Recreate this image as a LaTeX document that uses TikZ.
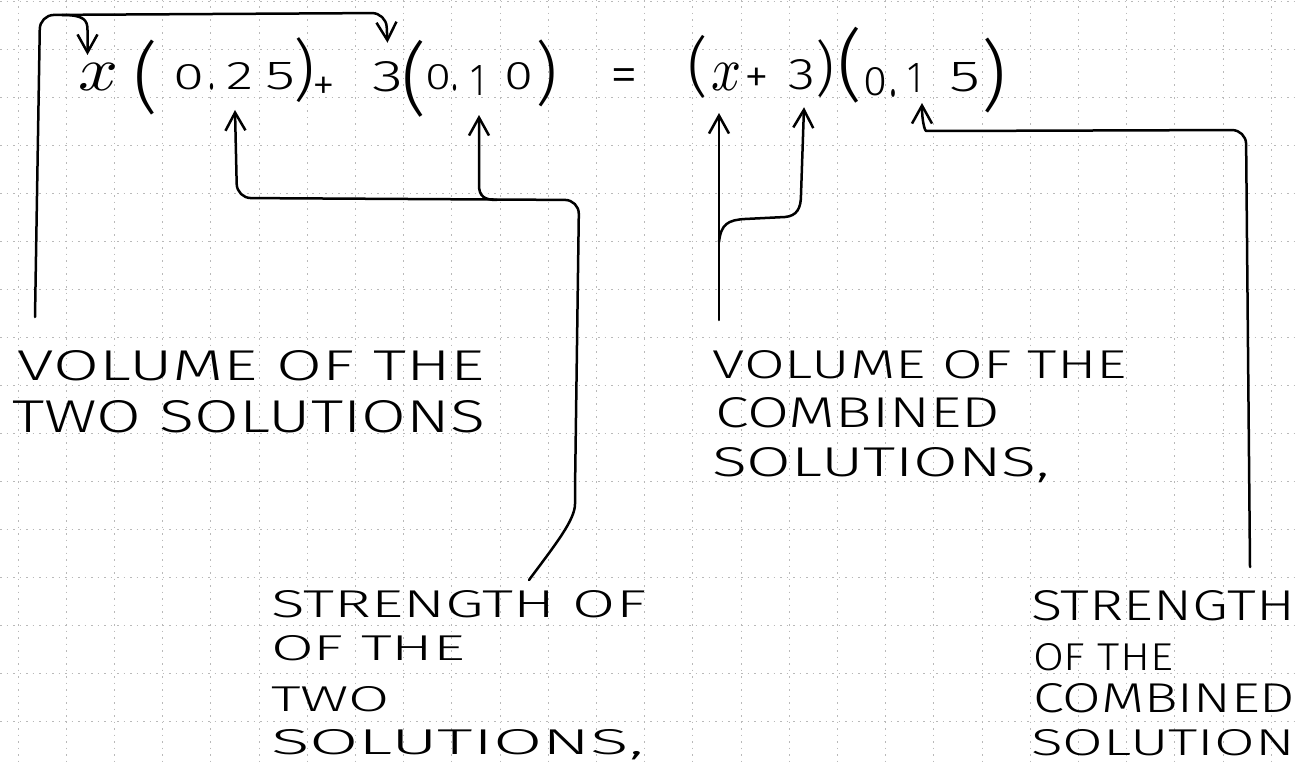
\documentclass[tikz,border=0pt]{standalone}
\usepackage{fontspec}
\setmainfont{Fira Sans Light}[Numbers=Lining]
\usepackage{graphicx}
\usetikzlibrary{arrows.meta}
\newcommand{\hwfit}[3]{\resizebox{#1}{#2}{#3}}
\newcommand{\hwfitt}[3]{\resizebox*{#1}{#2}{#3}}
\begin{document}
\begin{tikzpicture}[x=1pt,y=-1pt,
  hw/.style={inner sep=0pt, outer sep=0pt, anchor=base west},
  ch/.style={inner sep=0pt, outer sep=0pt},
  op/.style={inner sep=0pt, outer sep=0pt, anchor=base, font=\fontsize{46}{46}\selectfont},
  arr/.style={line width=2.5pt, line cap=round, line join=round, -{Straight Barb[length=18pt,width=20pt]}},
  gridln/.style={gray!55, line width=0.8pt, dash pattern=on 1.5pt off 5pt}]
\useasboundingbox (0,0) rectangle (1299,765);
\fill[white] (0,0) rectangle (1299,765);
\foreach \i in {0,...,26} \draw[gridln] ({18+48.2*\i},0) -- ({18+48.2*\i},765);
\foreach \j in {0,...,15} \draw[gridln] (0,{1.3+48*\j}) -- (1299,{1.3+48*\j});

% left-hand side of the equation
\node[ch] (xa)   at (99,76.5)  {\hwfit{40pt}{27pt}{$x$}};
\node[ch] (lpa)  at (146,77.5) {\hwfitt{!}{75pt}{(}};
\node[ch] (z1)   at (188.5,77.5) {\hwfit{31pt}{25pt}{0}};
\node[ch] (d1)   at (212,87)   {\hwfit{7pt}{6pt}{.}};
\node[ch] (two)  at (240.5,76.5) {\hwfit{27pt}{27pt}{2}};
\node[ch] (five) at (281,76.5) {\hwfit{30pt}{27pt}{5}};
\node[ch] (rpa)  at (304,70.5) {\hwfitt{!}{65pt}{)}};
\node[op] (pl1)  at (324,101)  {+};
\node[ch] (th)   at (387.5,77) {\hwfit{31pt}{30pt}{3}};
\node[ch] (lpb)  at (414,78.5) {\hwfitt{!}{77pt}{(}};
\node[ch] (z2)   at (438,77.5) {\hwfit{26pt}{25pt}{0}};
\node[ch] (d2)   at (455,88)   {\hwfit{7pt}{6pt}{.}};
\node[ch] (one)  at (478,80)   {\hwfit{15pt}{30pt}{1}};
\node[ch] (z3)   at (519,76.5) {\hwfit{29pt}{27pt}{0}};
\node[ch] (rpb)  at (547,73.5) {\hwfitt{!}{67pt}{)}};
\node[op, font=\fontsize{56}{56}\selectfont] (eq) at (624.5,94) {=};
% right-hand side
\node[ch] (lpc)  at (698,66.5) {\hwfitt{!}{63pt}{(}};
\node[ch] (xb)   at (726,76.5) {\hwfit{30pt}{27pt}{$x$}};
\node[op, font=\fontsize{50}{50}\selectfont] (pl2) at (757,94) {+};
\node[ch] (thb)  at (802,75)   {\hwfit{27pt}{30pt}{3}};
\node[ch] (rpc)  at (825,69)   {\hwfitt{!}{58pt}{)}};
\node[ch] (lpd)  at (850,65)   {\hwfitt{!}{76pt}{(}};
\node[ch] (z4)   at (875,82)   {\hwfit{24pt}{28pt}{0}};
\node[ch] (d3)   at (893,93)   {\hwfit{8pt}{7pt}{.}};
\node[ch] (oneb) at (914.5,77.5) {\hwfit{15pt}{29pt}{1}};
\node[ch] (fiveb) at (965,77.5) {\hwfit{31pt}{29pt}{5}};
\node[ch] (rpd)  at (994,75.5) {\hwfitt{!}{75pt}{)}};

% labels
\node[hw] (l1a) at (17,380)   {\hwfit{468pt}{30pt}{VOLUME OF THE}};
\node[hw] (l1b) at (12,432)   {\hwfit{473pt}{32pt}{TWO SOLUTIONS}};
\node[hw] (l2a) at (712,378)  {\hwfit{415pt}{28pt}{VOLUME OF THE}};
\node[hw] (l2b) at (715,427)  {\hwfit{285pt}{30pt}{COMBINED}};
\node[hw] (l2c) at (712,476)  {\hwfit{338pt}{29pt}{SOLUTIONS,}};
\node[hw] (l3a) at (271,617)  {\hwfit{375pt}{27pt}{STRENGTH OF}};
\node[hw] (l3b) at (271,660)  {\hwfit{194pt}{25pt}{OF THE}};
\node[hw] (l3c) at (271,711)  {\hwfit{119pt}{25pt}{TWO}};
\node[hw] (l3d) at (271,754)  {\hwfit{373pt}{25pt}{SOLUTIONS,}};
\node[hw] (l4a) at (1031,620) {\hwfit{264pt}{30pt}{STRENGTH}};
\node[hw] (l4b) at (1033,670) {\hwfit{140pt}{27pt}{OF THE}};
\node[hw] (l4c) at (1033,712) {\hwfit{262pt}{29pt}{COMBINED}};
\node[hw] (l4d) at (1031,755) {\hwfit{264pt}{26pt}{SOLUTION}};

% connector end points
\coordinate (s1) at (35,317);
\coordinate (b1) at (62,15);
\coordinate (tx) at ([xshift=-11.5pt,yshift=8pt]xa.north);
\coordinate (t3) at ([yshift=19pt]th.north);
\coordinate (s2) at (529,580);
\coordinate (b2) at (497,200);
\coordinate (t2) at ([xshift=-5.5pt,yshift=-20pt]two.south);
\coordinate (t1) at ([xshift=1pt,yshift=-20pt]one.south);
\coordinate (s3) at (719,320);
\coordinate (j3) at (719,242);
\coordinate (txb) at ([xshift=-7pt,yshift=-23pt]xb.south);
\coordinate (t3b) at ([xshift=2pt,yshift=-17pt]thb.south);
\coordinate (s4) at (1250,567);
\coordinate (t1b) at ([xshift=7.5pt,yshift=-11pt]oneb.south);

% volume of the two solutions
\draw[arr, rounded corners=14pt] (s1) -- (40,15) -- (386,13) -- (t3);
\draw[arr] (b1) .. controls (84,15) and (87.5,20) .. (87.5,30) -- (tx);
% strength of the two solutions
\draw[arr, rounded corners=14pt] (s2) .. controls (555,545) and (575,520) .. (575,490) -- (579,200) -- (237,198) -- (t2);
\draw[arr] (b2) .. controls (484,200) and (479,196) .. (479,185) -- (t1);
% volume of the combined solutions
\draw[arr] (s3) -- (txb);
\draw[arr] (j3) .. controls (721,224) and (728,220) .. (745,219) -- (785,217) .. controls (797,216) and (801,208) .. (801,195) -- (t3b);
% strength of the combined solution
\draw[arr, rounded corners=14pt] (s4) -- (1246,130) -- (940,131) .. controls (925,131) and (922,122) .. (t1b);
\end{tikzpicture}
\end{document}
